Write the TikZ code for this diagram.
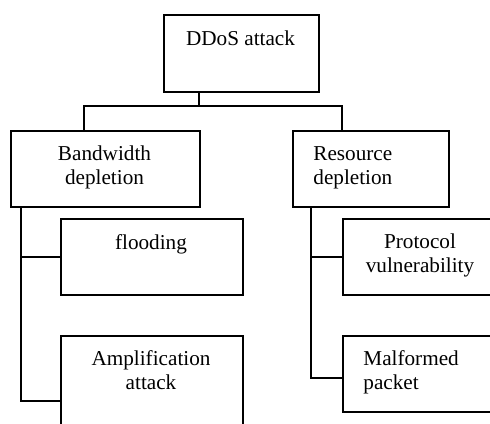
\documentclass[tikz,border=0pt]{standalone}
\usepackage{fontspec}
\setmainfont{Liberation Serif}
\tikzset{
  box/.style={draw, line width=0.9pt, anchor=north west, inner sep=0pt},
  txt/.style={font=\fontsize{10.6}{11.8}\selectfont, inner sep=0pt, anchor=base},
  link/.style={line width=0.9pt}
}
\begin{document}
\begin{tikzpicture}[x=0.5pt, y=-0.5pt]
\clip (0,0) rectangle (490,423);

% --- Boxes ---
\node[box, minimum width=77.5pt, minimum height=38.5pt] (ddos) at (163,14) {};
\node[box, minimum width=94.5pt, minimum height=38pt] (bw) at (10,130) {};
\node[box, minimum width=78pt, minimum height=38pt] (res) at (292,130) {};
\node[box, minimum width=91pt, minimum height=38pt] (flood) at (60,218) {};
\node[box, minimum width=91pt, minimum height=65pt] (ampl) at (60,335) {};
\node[box, minimum width=80pt, minimum height=38pt] (proto) at (342,218) {};
\node[box, minimum width=80pt, minimum height=38pt] (malf) at (342,335) {};

% --- Labels (base = last line) ---
\node[txt] (ddos-t) at (240.5,45) {DDoS attack};
\node[txt, align=center] (bw-t) at (104.5,184.5) {Bandwidth\\depletion};
\node[txt, align=left, anchor=base west] (res-t) at (313,184.5) {Resource\\depletion};
\node[txt] (flood-t) at (151,249) {flooding};
\node[txt, align=center] (ampl-t) at (151,389) {Amplification\\attack};
\node[txt, align=center] (proto-t) at (420,272.5) {Protocol\\vulnerability};
\node[txt, align=left, anchor=base west] (malf-t) at (363,389) {Malformed\\packet};

% --- Connectors ---
\coordinate (root) at (199,106);
\coordinate (bwtop) at (84,106);
\coordinate (restop) at (342,106);
\coordinate (bwstem) at (21,0);
\coordinate (resstem) at (311,0);

\draw[link] (root |- ddos.south) -- (root);
\draw[link] (bwtop |- bw.north) -- (bwtop) -- (restop) -- (restop |- res.north);
\draw[link] (bwstem |- bw.south) |- (ampl.west);
\draw[link] (bwstem |- flood.west) -- (flood.west);
\draw[link] (resstem |- res.south) |- ([yshift=-2pt]malf.west);
\draw[link] (resstem |- proto.west) -- (proto.west);

\end{tikzpicture}
\end{document}
